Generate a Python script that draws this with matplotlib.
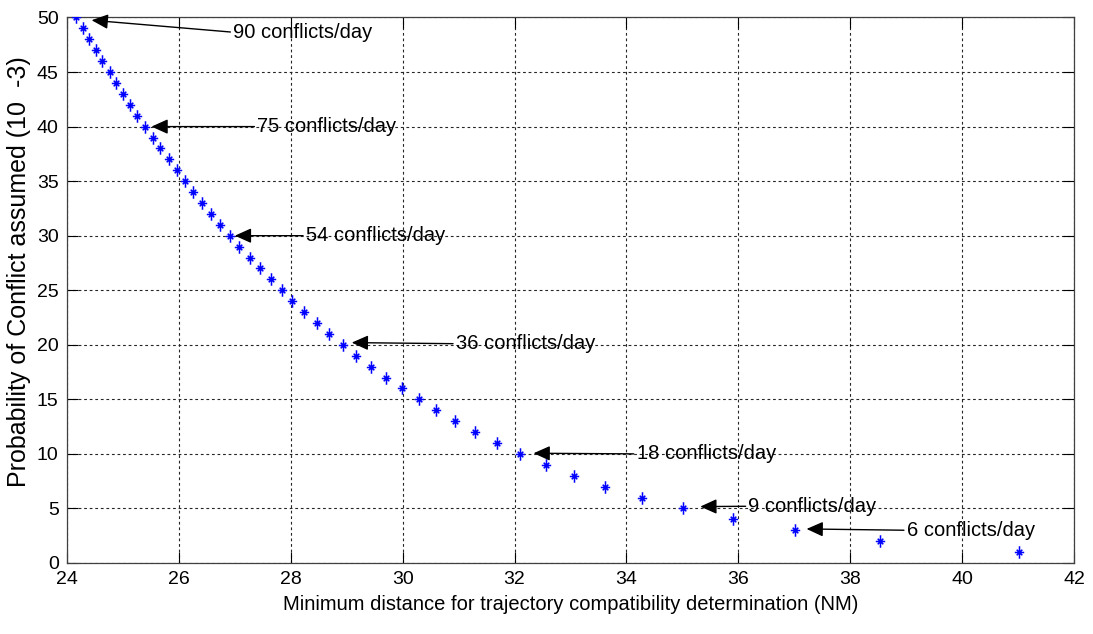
import numpy as np
import matplotlib
matplotlib.use('Agg')
import matplotlib.pyplot as plt
from matplotlib.path import Path

# minimum separation (NM) vs probability of conflict (x 10^-3)
prob = list(range(50, 0, -1))
dist = [24.16, 24.28, 24.39, 24.52, 24.63, 24.76, 24.88, 25.00, 25.13, 25.25,
        25.39, 25.53, 25.67, 25.82, 25.97, 26.11, 26.25, 26.42, 26.57, 26.73,
        26.91, 27.07, 27.27, 27.45, 27.64, 27.84, 28.03, 28.24, 28.46, 28.69,
        28.93, 29.17, 29.43, 29.71, 29.99, 30.29, 30.60, 30.93, 31.30, 31.69,
        32.10, 32.56, 33.06, 33.62, 34.27, 35.02, 35.90, 37.02, 38.53, 41.01]

# arrow labels: text, arrow tip, text anchor (left-centre)
labels = ['90 conflicts/day', '75 conflicts/day', '54 conflicts/day',
          '36 conflicts/day', '18 conflicts/day', '9 conflicts/day',
          '6 conflicts/day']
tips = [(24.44, 49.75), (25.51, 40.0), (27.0, 30.0), (29.09, 20.2),
        (32.34, 10.06), (35.32, 5.17), (37.22, 3.12)]
anchors = [(26.97, 48.65), (27.40, 40.0), (28.27, 30.0), (30.95, 20.1),
           (34.18, 10.0), (36.18, 5.2), (39.01, 3.0)]

font = ['Liberation Sans', 'DejaVu Sans']

# matlab style asterisk: tall plus with short diagonals
star = Path([(0, -1), (0, 1), (-0.75, 0), (0.75, 0),
             (-0.45, -0.45), (0.45, 0.45), (-0.45, 0.45), (0.45, -0.45)],
            [Path.MOVETO, Path.LINETO] * 4)

fig = plt.figure(figsize=(10.93, 6.34), dpi=100)
ax = fig.add_axes([0.0613, 0.112, 0.9213, 0.8604])

ax.plot(dist, prob, linestyle='none', marker=star, markersize=9,
        markeredgewidth=1.1, markerfacecolor='none', color='#0000ff', zorder=3)

for txt, tip, anc in zip(labels, tips, anchors):
    ax.annotate(txt, xy=tip, xytext=anc, ha='left', va='center',
                fontsize=14.5, family=font, color='black',
                arrowprops=dict(arrowstyle='-|>,head_length=1.0,head_width=0.45',
                                color='black', lw=1.0, shrinkA=0, shrinkB=0,
                                relpos=(0, 0.5), mutation_scale=10))

ax.set_xlim(24, 42)
ax.set_ylim(0, 50)
ax.set_xticks(np.arange(24, 43, 2))
ax.set_yticks(np.arange(0, 51, 5))

ax.grid(True, linestyle=(0, (2.5, 2.5)), linewidth=0.8, color='0.15')
ax.set_axisbelow(True)
ax.tick_params(direction='in', length=8, width=0.8, top=True, right=True,
               labelsize=14, pad=6)
for lab in ax.get_xticklabels() + ax.get_yticklabels():
    lab.set_family(font)
for sp in ax.spines.values():
    sp.set_linewidth(0.9)
    sp.set_color('0.25')

ax.set_xlabel('Minimum distance for trajectory compatibility determination (NM)',
              fontsize=14.5, family=font)
ax.xaxis.set_label_coords(0.5, -0.058)
ax.set_ylabel('Probability of Conflict assumed (10  -3)', fontsize=18, family=font)
ax.yaxis.set_label_coords(-0.036, 0.534)

fig.savefig('out.png', dpi=100)
